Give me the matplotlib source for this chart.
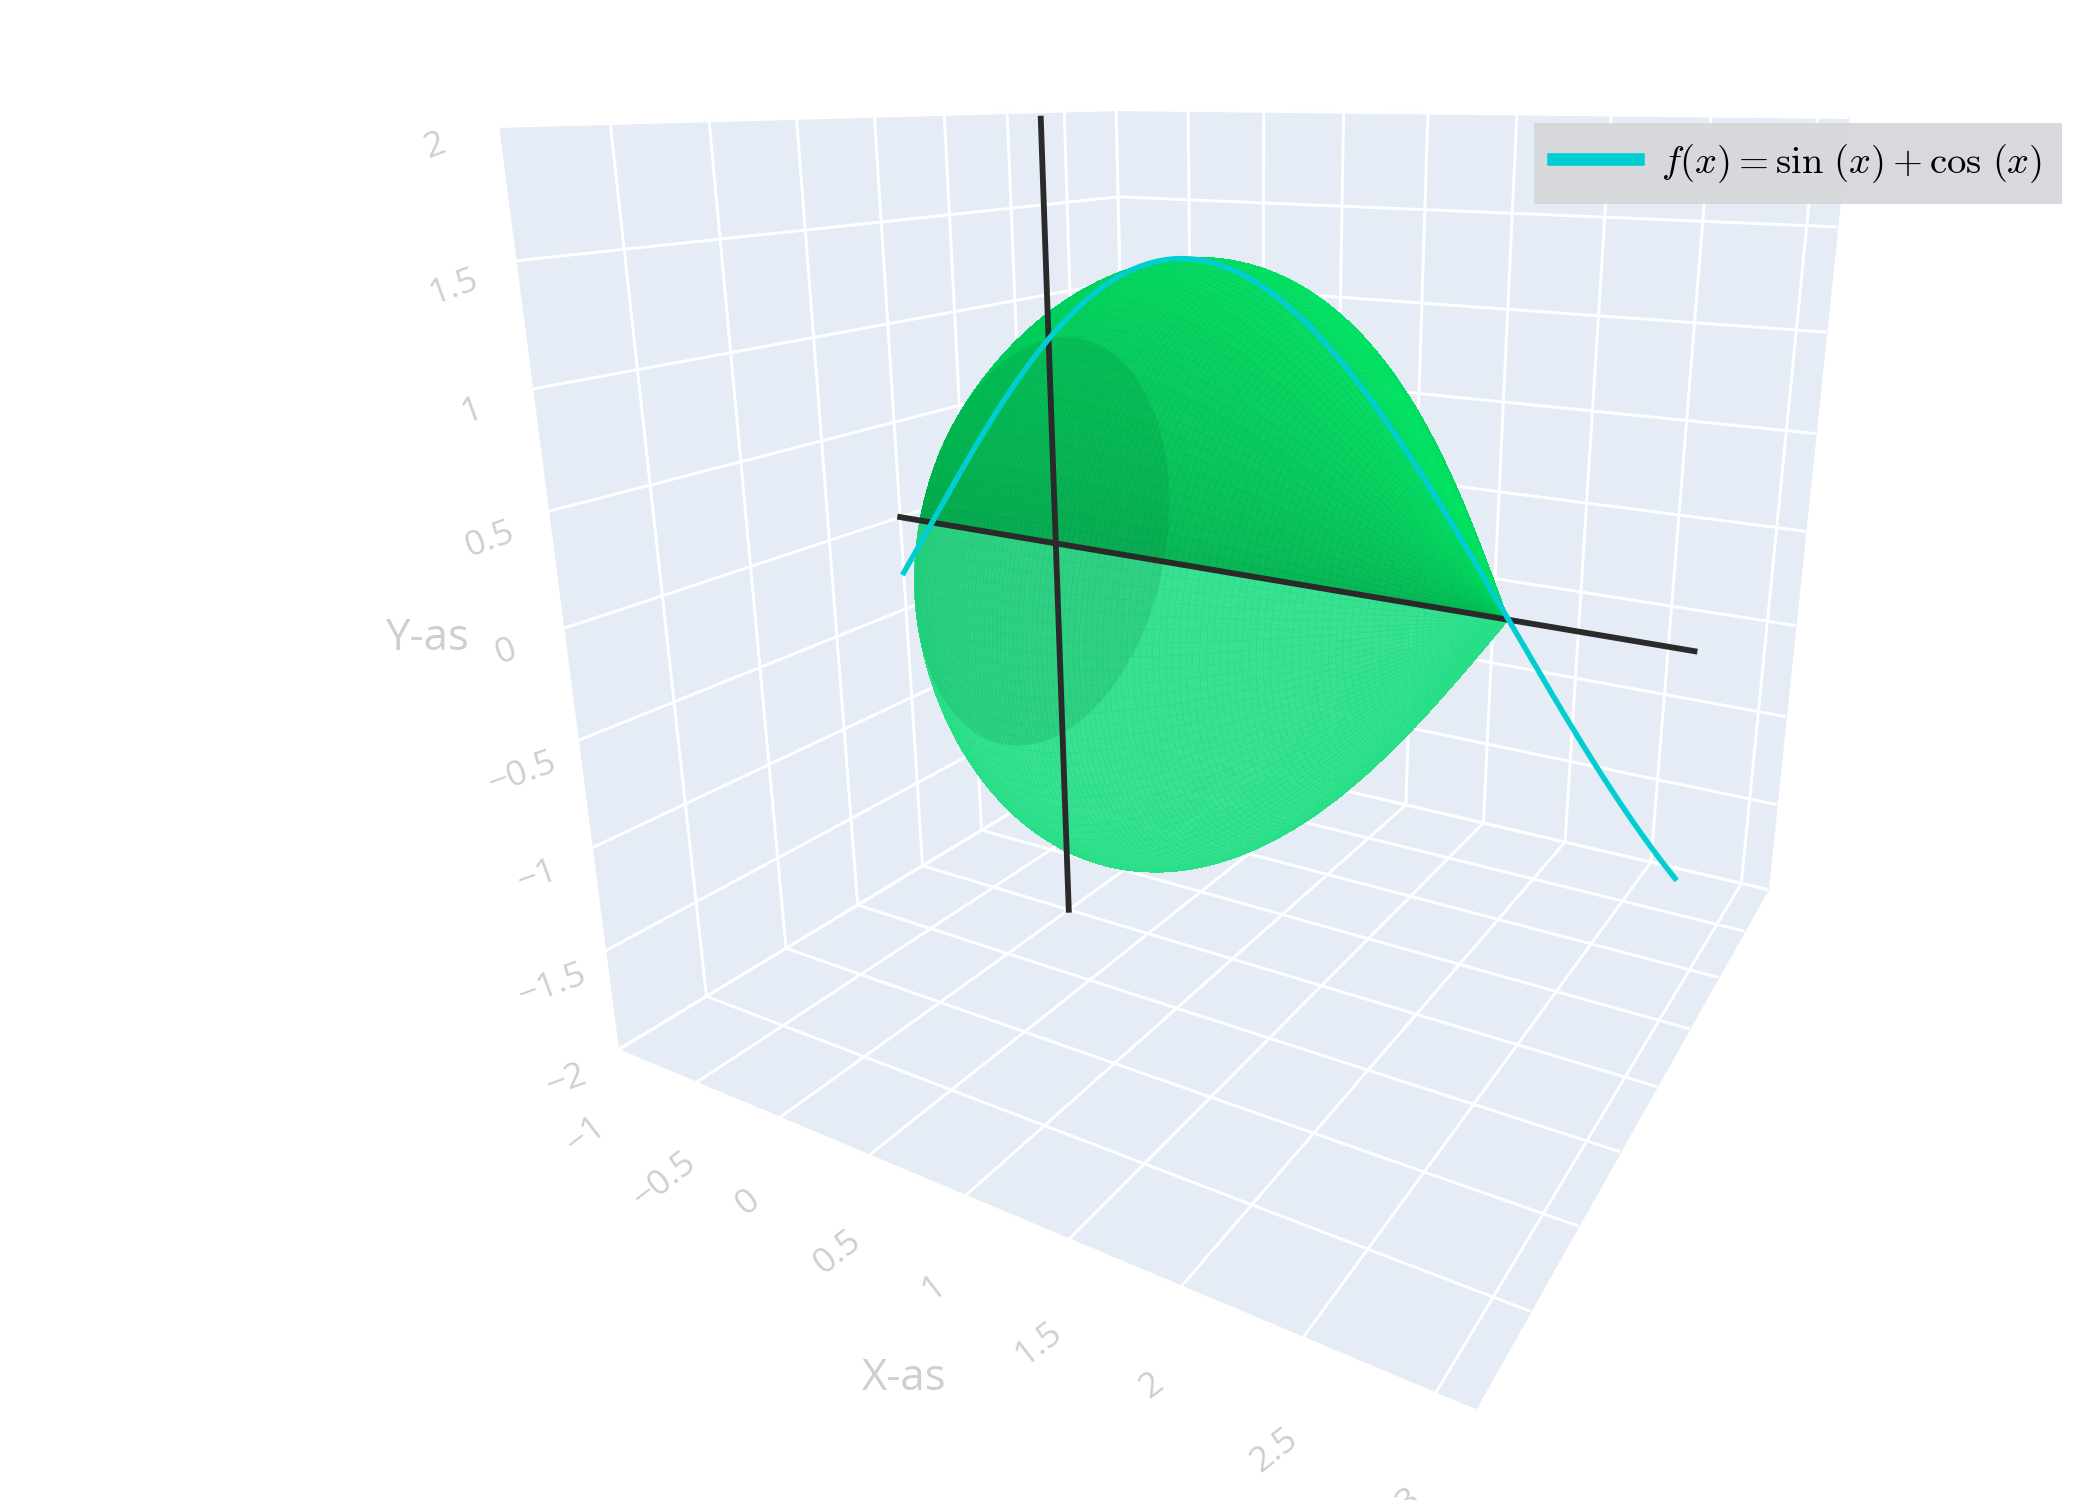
"""Surface of revolution of f(x) = sin(x) + cos(x) around the x-axis, plotly-like 3D styling."""
import matplotlib

matplotlib.use("Agg")
import matplotlib.pyplot as plt
import numpy as np
from matplotlib.colors import to_rgb
from matplotlib.lines import Line2D
from mpl_toolkits.mplot3d.art3d import Poly3DCollection

# data
curve_x_range = [-1.0, np.pi]          # cyan curve and black x-axis line
surface_x_range = [0.0, 3 * np.pi / 4]  # between the roots of f
vline_y_range = [-2.0, 2.0]            # black vertical line at x = 0
x_ticks = [-1, -0.5, 0, 0.5, 1, 1.5, 2, 2.5, 3]
y_ticks = [-2, -1.5, -1, -0.5, 0, 0.5, 1, 1.5, 2]
depth_ticks = [-2, -1.5, -1, -0.5, 0, 0.5, 1, 1.5, 2]
x_limits = [-1.0, np.pi]
y_limits = [-2.0, 2.0]
depth_limits = [-2.0, 2.0]
legend_label = r"$f(x) = \sin\,(x) + \cos\,(x)$"


def f(x):
    return np.sin(x) + np.cos(x)


def fprime(x):
    return np.cos(x) - np.sin(x)


def fmt(t):
    return f"{t:g}".replace("-", "\u2212")


PANE = "#E5ECF6"
TICK = "#CFCFCF"
ELEV, AZIM = 17, -60

plt.rcParams["font.family"] = ["Open Sans", "DejaVu Sans"]
plt.rcParams["mathtext.fontset"] = "cm"

fig = plt.figure(figsize=(14, 10), dpi=150)
ax = fig.add_axes([0.083, 0.103, 1.0, 1.0], projection="3d", computed_zorder=False)
ax.set_proj_type("persp", focal_length=0.2)
ax.view_init(elev=ELEV, azim=AZIM)

# surface: plotly (x, y, z) -> mpl (x, z, y), so the plotly y is vertical
xs = np.linspace(*surface_x_range, 120)
th = np.linspace(0, 2 * np.pi, 140)
XX, TT = np.meshgrid(xs, th)
RR = f(XX)
SX = XX
SY = RR * np.sin(TT)
SZ = RR * np.cos(TT)

# colouring: bright on top, darker towards the axis, pale underneath
e, a = np.deg2rad(ELEV), np.deg2rad(AZIM)
cam = np.array([np.cos(e) * np.cos(a), np.cos(e) * np.sin(a), np.sin(e)])
eye = np.array([np.mean(x_limits), 0.0, 0.0]) + 7.5 * cam
nx, ny, nz = -fprime(XX), np.sin(TT), np.cos(TT)
facing = nx * (eye[0] - SX) + ny * (eye[1] - SY) + nz * (eye[2] - SZ)
# side of the plane through the x-axis line and the eye: above or below the axis on screen
side = np.sin(e) * np.sin(TT) - np.cos(e) * np.sin(a) * np.cos(TT)
phi = np.arcsin(np.clip(side / np.hypot(np.sin(e), np.cos(e) * np.sin(a)), -1, 1))

bright = np.array(to_rgb("#00E262"))
dark = np.array(to_rgb("#00B24E"))
pale = np.array(to_rgb("#27DF86"))
t = np.clip(phi / (np.pi / 2), 0, 1)[..., None] ** 0.7
front_c = dark * (1 - t) + bright * t
front_c = np.where((phi < 0)[..., None], pale, front_c)
front_a = np.where(phi < 0, 0.9, 0.95)
front_a = np.where(facing < 0, 0.0, front_a)
front_fc = np.concatenate([front_c, front_a[..., None]], axis=-1)
ax.plot_surface(SX, SY, SZ, facecolors=front_fc, shade=False,
                linewidth=0, antialiased=False, rstride=1, cstride=1)

# the open end at x = 0 shows through as a slightly darker ellipse
rim = np.linspace(0, 2 * np.pi, 100)
r0 = f(surface_x_range[0])
disk = [list(zip(np.zeros_like(rim), r0 * np.sin(rim), r0 * np.cos(rim)))]
ax.add_collection3d(Poly3DCollection(disk, facecolor="#006B30", alpha=0.14, linewidth=0))

# black axis lines
ax.plot(curve_x_range, [0, 0], [0, 0], color="#2A2A2A", lw=2.8)
ax.plot([0, 0], [0, 0], vline_y_range, color="#2A2A2A", lw=2.8)

# cyan curve
cx = np.linspace(*curve_x_range, 300)
ax.plot(cx, np.zeros_like(cx), f(cx), color="#00CED1", lw=2.6)

ax.set_xlim(*x_limits)
ax.set_ylim(*depth_limits)
ax.set_zlim(*y_limits)
ax.set_box_aspect((1, 1, 0.97), zoom=1.0)

ax.set_xticks(x_ticks)
ax.set_yticks(depth_ticks)
ax.set_zticks(y_ticks)
ax.set_xticklabels([fmt(t) for t in x_ticks])
ax.set_yticklabels([])
ax.set_zticklabels([fmt(t) for t in y_ticks])

for axis in (ax.xaxis, ax.yaxis, ax.zaxis):
    axis.set_pane_color(PANE)
    axis.pane.set_edgecolor(PANE)
    axis._axinfo["grid"].update(color="white", linewidth=1.4)
    axis._axinfo["tick"]["inward_factor"] = 0.0
    axis._axinfo["tick"]["outward_factor"] = 0.0
    axis.line.set_color((1, 1, 1, 0))

ax.zaxis.set_ticks_position("lower")
ax.zaxis.set_label_position("lower")

ax.tick_params(axis="x", colors=TICK, labelsize=17, pad=10, labelrotation=38)
ax.tick_params(axis="z", colors=TICK, labelsize=17, pad=6, labelrotation=20)
ax.set_xlabel("X-as", color=TICK, fontsize=21, labelpad=22)
ax.set_zlabel("Y-as", color=TICK, fontsize=21, labelpad=12, rotation=0)

handle = Line2D([], [], color="#00CED1", lw=6)
leg = fig.legend([handle], [legend_label], loc="upper right",
                 bbox_to_anchor=(0.991, 0.931), fontsize=18.5, frameon=True,
                 fancybox=False, handlelength=2.2, handletextpad=0.6, borderpad=0.5)
leg.get_frame().set_facecolor("#D6D7DA")
leg.get_frame().set_edgecolor("none")
leg.get_frame().set_alpha(0.95)

fig.savefig("out.png", dpi=150, facecolor="white")
